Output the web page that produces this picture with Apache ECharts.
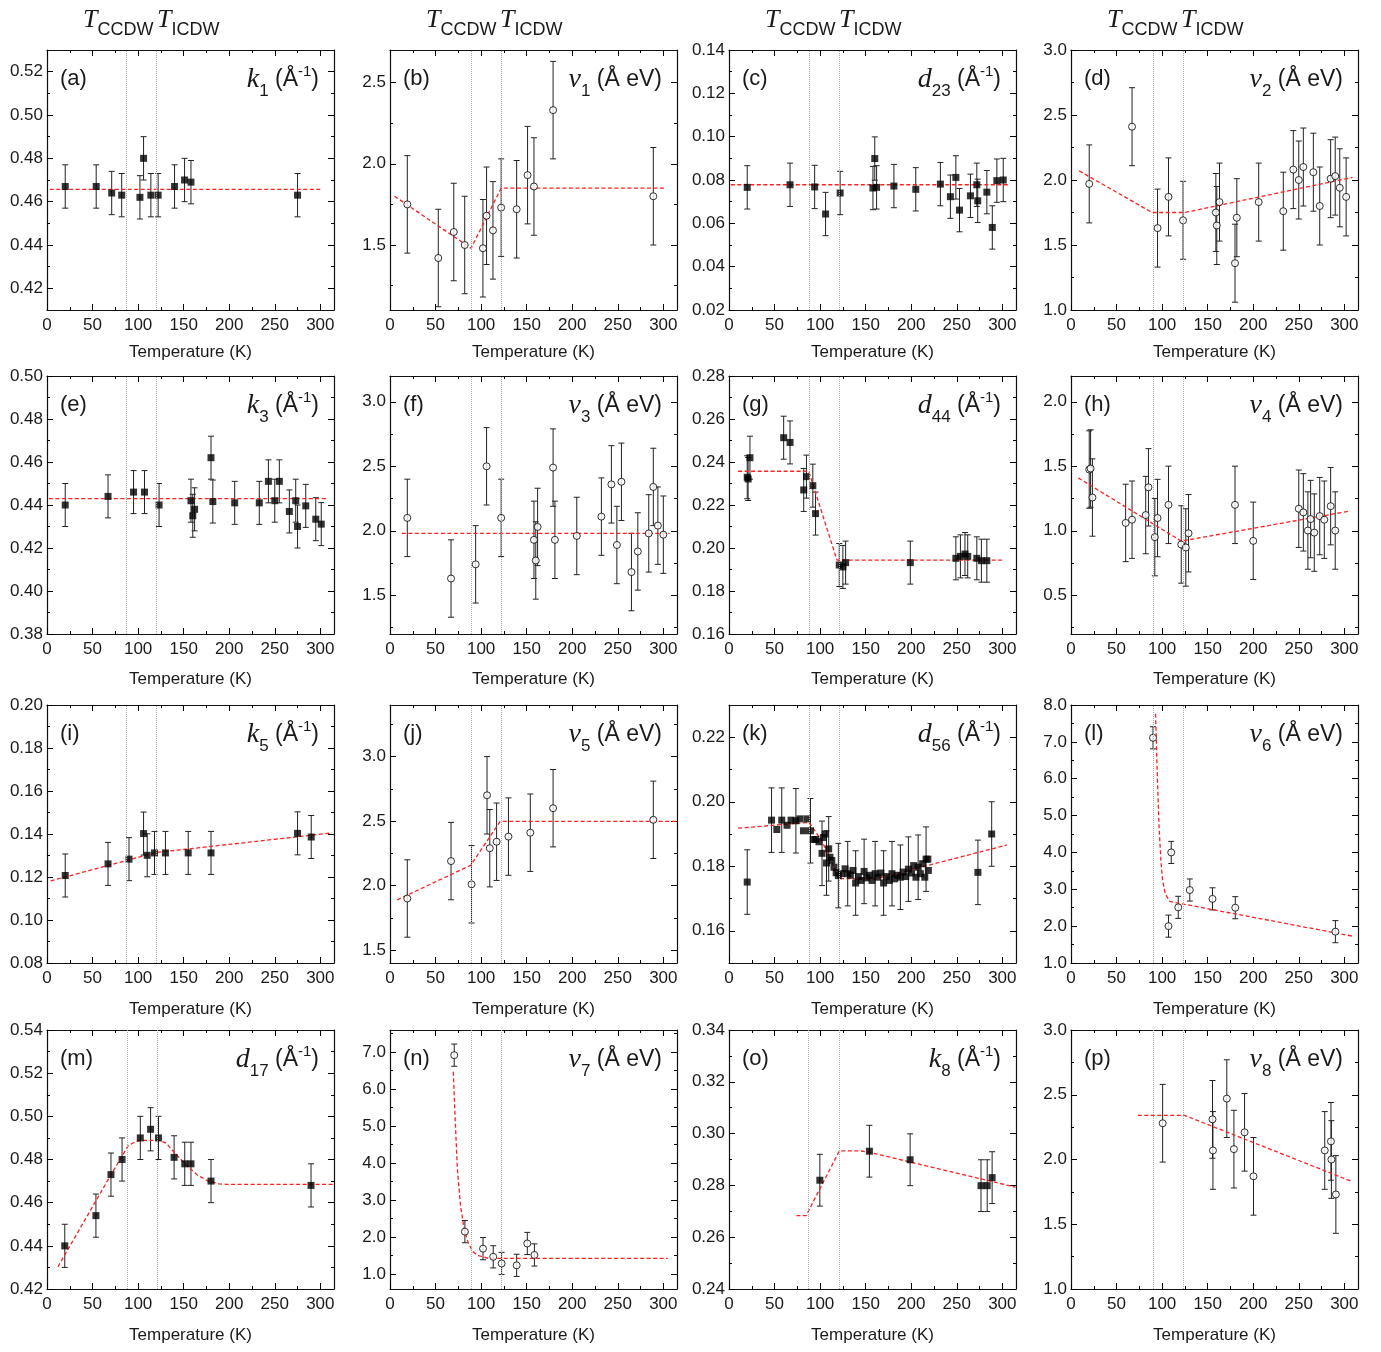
<!DOCTYPE html>
<html><head><meta charset="utf-8">
<script src="https://cdn.jsdelivr.net/npm/echarts@6/dist/echarts.min.js"></script>
<style>html,body{margin:0;padding:0;background:#fff}#c{width:1381px;height:1352px}</style>
</head><body><div id="c"></div>
<script>
// ---------------- DATA ----------------
const xTicks = [0, 50, 100, 150, 200, 250, 300];

// (a) k1
const a_T = [20, 54, 71, 82, 102, 106, 114, 122, 140, 151, 158, 275];
const a_V = [0.467, 0.467, 0.464, 0.463, 0.462, 0.480, 0.463, 0.463, 0.467, 0.470, 0.469, 0.463];
const a_E = [0.01, 0.01, 0.01, 0.01, 0.01, 0.01, 0.01, 0.01, 0.01, 0.01, 0.01, 0.01];
const a_fitT = [3, 300];
const a_fitV = [0.4657, 0.4657];
const a_tc = [87, 120];
const a_yTicks = [0.42, 0.44, 0.46, 0.48, 0.50, 0.52];

// (b) v1
const b_T = [19, 53, 70, 82, 102, 106, 113, 122, 139, 151, 158, 179, 289];
const b_V = [1.75, 1.42, 1.58, 1.50, 1.48, 1.68, 1.59, 1.73, 1.72, 1.93, 1.86, 2.33, 1.80];
const b_E = [0.3, 0.3, 0.3, 0.3, 0.3, 0.3, 0.3, 0.3, 0.3, 0.3, 0.3, 0.3, 0.3];
const b_fitT = [5, 89, 122, 302];
const b_fitV = [1.80, 1.48, 1.85, 1.85];
const b_tc = [89, 122];
const b_yTicks = [1.5, 2.0, 2.5];

// (c) d23
const c_T = [20, 67, 94, 106, 122, 158, 160, 162, 181, 205, 232, 243, 249, 253, 265, 272, 273, 283, 289, 294, 301];
const c_V = [0.0766, 0.0778, 0.0768, 0.0643, 0.0740, 0.0763, 0.0899, 0.0766, 0.0772, 0.0757, 0.0781, 0.0723, 0.0812, 0.0661, 0.0727, 0.0778, 0.0704, 0.0744, 0.0581, 0.0797, 0.0800];
const c_E = [0.01, 0.01, 0.01, 0.01, 0.01, 0.01, 0.01, 0.01, 0.01, 0.01, 0.01, 0.01, 0.01, 0.01, 0.01, 0.01, 0.01, 0.01, 0.01, 0.01, 0.01];
const c_fitT = [2, 308];
const c_fitV = [0.0778, 0.0778];
const c_tc = [88, 121];
const c_yTicks = [0.02, 0.04, 0.06, 0.08, 0.10, 0.12, 0.14];

// (d) v2
const d_T = [20, 67, 95, 107, 123, 159, 160, 163, 180, 182, 206, 233, 244, 250, 255, 266, 273, 285, 290, 295, 302];
const d_V = [1.97, 2.41, 1.63, 1.87, 1.69, 1.75, 1.65, 1.83, 1.36, 1.71, 1.83, 1.76, 2.08, 2.00, 2.10, 2.06, 1.80, 2.01, 2.03, 1.94, 1.87];
const d_E = [0.3, 0.3, 0.3, 0.3, 0.3, 0.3, 0.3, 0.3, 0.3, 0.3, 0.3, 0.3, 0.3, 0.3, 0.3, 0.3, 0.3, 0.3, 0.3, 0.3, 0.3];
const d_fitT = [9, 89, 125, 309];
const d_fitV = [2.07, 1.75, 1.75, 2.02];
const d_tc = [90.5, 123.5];
const d_yTicks = [1.0, 1.5, 2.0, 2.5, 3.0];

// (e) k3
const e_T = [20, 67, 95, 107, 123, 158, 160, 162, 180, 182, 206, 233, 243, 250, 255, 266, 273, 275, 284, 295, 301];
const e_V = [0.440, 0.444, 0.446, 0.446, 0.440, 0.442, 0.435, 0.438, 0.462, 0.4416, 0.441, 0.441, 0.451, 0.442, 0.451, 0.437, 0.442, 0.430, 0.4396, 0.4334, 0.4311];
const e_E = [0.01, 0.01, 0.01, 0.01, 0.01, 0.01, 0.01, 0.01, 0.01, 0.01, 0.01, 0.01, 0.01, 0.01, 0.01, 0.01, 0.01, 0.01, 0.01, 0.01, 0.01];
const e_fitT = [2, 306];
const e_fitV = [0.443, 0.443];
const e_tc = [87, 120];
const e_yTicks = [0.38, 0.40, 0.42, 0.44, 0.46, 0.48, 0.50];

// (f) v3
const f_T = [19, 67, 94, 106, 122, 158, 160, 162, 179, 181, 205, 232, 243, 249, 254, 265, 272, 284, 289, 294, 300];
const f_V = [2.10, 1.63, 1.74, 2.50, 2.10, 1.93, 1.77, 2.03, 2.49, 1.93, 1.96, 2.11, 2.36, 1.89, 2.38, 1.68, 1.84, 1.98, 2.34, 2.04, 1.97];
const f_E = [0.3, 0.3, 0.3, 0.3, 0.3, 0.3, 0.3, 0.3, 0.3, 0.3, 0.3, 0.3, 0.3, 0.3, 0.3, 0.3, 0.3, 0.3, 0.3, 0.3, 0.3];
const f_fitT = [13, 307];
const f_fitV = [1.98, 1.98];
const f_tc = [89, 122];
const f_yTicks = [1.5, 2.0, 2.5, 3.0];

// (g) d44
const g_T = [20, 21, 23, 60, 67, 82, 85, 92, 95, 121, 125, 128, 199, 249, 254, 259, 262, 272, 277, 283];
const g_V = [0.2329, 0.2321, 0.2420, 0.2513, 0.2491, 0.2270, 0.2332, 0.2290, 0.2160, 0.1921, 0.1912, 0.1932, 0.1932, 0.1952, 0.1961, 0.1972, 0.1961, 0.1952, 0.1941, 0.1941];
const g_E = [0.01, 0.01, 0.01, 0.01, 0.01, 0.01, 0.01, 0.01, 0.01, 0.01, 0.01, 0.01, 0.01, 0.01, 0.01, 0.01, 0.01, 0.01, 0.01, 0.01];
const g_fitT = [10, 87.5, 118.5, 301];
const g_fitV = [0.2357, 0.2357, 0.1944, 0.1944];
const g_tc = [88, 121];
const g_yTicks = [0.16, 0.18, 0.20, 0.22, 0.24, 0.26, 0.28];

// (h) v4
const h_T = [20, 21.5, 23.5, 60, 67, 82, 85, 92, 95, 107, 121, 126, 129, 180, 200, 250, 255, 260, 263, 267, 273, 278, 285, 290];
const h_V = [1.475, 1.483, 1.258, 1.061, 1.086, 1.122, 1.337, 0.951, 1.099, 1.201, 0.894, 0.871, 0.981, 1.201, 0.922, 1.171, 1.143, 1.002, 1.091, 0.986, 1.114, 1.086, 1.191, 1.002];
const h_E = [0.3, 0.3, 0.3, 0.3, 0.3, 0.3, 0.3, 0.3, 0.3, 0.3, 0.3, 0.3, 0.3, 0.3, 0.3, 0.3, 0.3, 0.3, 0.3, 0.3, 0.3, 0.3, 0.3, 0.3];
const h_fitT = [8, 121, 306];
const h_fitV = [1.41, 0.92, 1.153];
const h_tc = [90.5, 123.5];
const h_yTicks = [0.5, 1.0, 1.5, 2.0];

// (i) k5
const i_T = [20, 67, 90, 106, 110, 118, 130, 155, 180, 275, 290];
const i_V = [0.1207, 0.1261, 0.1283, 0.1402, 0.1301, 0.1312, 0.1312, 0.1312, 0.1312, 0.1403, 0.1386];
const i_E = [0.01, 0.01, 0.01, 0.01, 0.01, 0.01, 0.01, 0.01, 0.01, 0.01, 0.01];
const i_fitT = [4, 120, 313];
const i_fitV = [0.1182, 0.1314, 0.1405];
const i_tc = [87, 120];
const i_yTicks = [0.08, 0.10, 0.12, 0.14, 0.16, 0.18, 0.20];

// (j) v5
const j_T = [19, 67, 89.5, 106.5, 109.5, 117, 130, 154, 179, 289];
const j_V = [1.90, 2.19, 2.01, 2.70, 2.29, 2.34, 2.38, 2.41, 2.60, 2.51];
const j_E = [0.3, 0.3, 0.3, 0.3, 0.3, 0.3, 0.3, 0.3, 0.3, 0.3];
const j_fitT = [8, 88.5, 121, 314];
const j_fitV = [1.89, 2.157, 2.498, 2.498];
const j_tc = [89, 122];
const j_yTicks = [1.5, 2.0, 2.5, 3.0];

// (k) d56
const k_T = [20, 46.7, 52.5, 57.9, 63.7, 68.1, 73.4, 77.8, 81.7, 85.6, 89.4, 92.4, 95.3, 98.7, 102.1, 103.6, 105.5, 107, 109.4, 110.8,
  112.8, 115.2, 117.6, 120, 123.5, 127.4, 130.3, 133.2, 136.1, 139, 142, 144.9, 148.3, 151.2, 154.1, 157, 160.4, 163.3, 166.7, 169.7,
  172.6, 176, 178.9, 181.8, 184.7, 188.1, 191.1, 194, 196.9, 200.3, 202.7, 205.2, 207.6, 210, 212.5, 214.9, 216.3, 218.3, 218.8, 273.2, 288.3];
const k_V = [0.1751, 0.1943, 0.1914, 0.1943, 0.1927, 0.1943, 0.1941, 0.1947, 0.1910, 0.1947, 0.1910, 0.1883, 0.1883, 0.1876, 0.1840, 0.1889, 0.1900, 0.1810, 0.1854, 0.1828,
  0.1818, 0.1797, 0.1780, 0.1771, 0.1777, 0.1792, 0.1777, 0.1772, 0.1787, 0.1748, 0.1768, 0.1756, 0.1784, 0.1764, 0.1772, 0.1756, 0.1777, 0.1766, 0.1779, 0.1748,
  0.1768, 0.1756, 0.1777, 0.1761, 0.1772, 0.1766, 0.1782, 0.1768, 0.1791, 0.1779, 0.1802, 0.1766, 0.1797, 0.1777, 0.1808, 0.1766, 0.1822, 0.1822, 0.1787, 0.1781, 0.1900];
const k_E = [0.01, 0.01, 0, 0.01, 0, 0, 0.01, 0, 0, 0, 0.01, 0, 0, 0, 0.01, 0, 0, 0.01, 0.01, 0,
  0, 0, 0, 0.01, 0, 0, 0.01, 0, 0, 0.01, 0, 0, 0.01, 0, 0, 0, 0.01, 0, 0, 0.01,
  0, 0, 0.01, 0, 0, 0.01, 0, 0, 0.01, 0, 0, 0, 0.01, 0, 0, 0, 0.01, 0, 0, 0.01, 0.01];
const k_fitT = [10, 88, 101.5, 112, 120, 160, 305];
const k_fitV = [0.1918, 0.1936, 0.1880, 0.1820, 0.1762, 0.1760, 0.1866];
const k_tc = [88, 121];
const k_yTicks = [0.16, 0.18, 0.20, 0.22];

// (l) v6
const l_T = [90, 107, 110, 117.7, 130.4, 155.3, 180.3, 290.2];
const l_V = [7.11, 2.00, 4.00, 2.51, 2.98, 2.74, 2.50, 1.85];
const l_E = [0.3, 0.3, 0.3, 0.3, 0.3, 0.3, 0.3, 0.3];
const l_fitT = [92.8, 94.8, 96.7, 98.7, 100.6, 103.6, 108.5, 123.1, 308.8];
const l_fitV = [7.76, 6.02, 4.67, 3.77, 3.23, 2.87, 2.67, 2.60, 1.73];
const l_tc = [90.5, 123.5];
const l_yTicks = [1.0, 2.0, 3.0, 4.0, 5.0, 6.0, 7.0, 8.0];

// (m) d17
const m_T = [19.5, 53.7, 70.2, 82.4, 102.4, 113.7, 122.4, 139.5, 151.2, 158, 180, 289.8];
const m_V = [0.440, 0.454, 0.473, 0.480, 0.490, 0.494, 0.490, 0.481, 0.478, 0.478, 0.470, 0.468];
const m_E = [0.01, 0.01, 0.01, 0.01, 0.01, 0.01, 0.01, 0.01, 0.01, 0.01, 0.01, 0.01];
const m_fitT = [12, 70, 82, 89, 97, 104, 123, 131, 140.5, 152.7, 165, 177, 189, 197, 314];
const m_fitV = [0.4303, 0.4728, 0.4813, 0.4863, 0.4883, 0.4889, 0.4889, 0.4875, 0.4829, 0.4775, 0.4728, 0.4700, 0.4687, 0.4685, 0.4685];
const m_tc = [88, 121];
const m_yTicks = [0.42, 0.44, 0.46, 0.48, 0.50, 0.52, 0.54];

// (n) v7
const n_T = [70.5, 82.2, 102.1, 113.3, 122.5, 139, 150.7, 158.5];
const n_V = [6.92, 2.15, 1.69, 1.47, 1.29, 1.24, 1.83, 1.52];
const n_E = [0.3, 0.3, 0.3, 0.3, 0.3, 0.3, 0.3, 0.3];
const n_fitT = [69.5, 71.5, 73.9, 77.3, 81.2, 86, 90.9, 97.2, 107.9, 304.8];
const n_fitV = [6.47, 5.21, 3.86, 2.87, 2.24, 1.84, 1.61, 1.50, 1.43, 1.43];
const n_tc = [89, 122];
const n_yTicks = [1.0, 2.0, 3.0, 4.0, 5.0, 6.0, 7.0];

// (o) k8
const o_T = [99.7, 154.1, 198.8, 276.6, 283.4, 288.8];
const o_V = [0.2820, 0.2932, 0.2899, 0.2799, 0.2799, 0.2830];
const o_E = [0.01, 0.01, 0.01, 0.01, 0.01, 0.01];
const o_fitT = [74, 84.6, 121.1, 144.4, 154.1, 314.6];
const o_fitV = [0.2683, 0.2683, 0.2933, 0.2933, 0.2928, 0.2793];
const o_tc = [87.5, 121];
const o_yTicks = [0.24, 0.26, 0.28, 0.30, 0.32, 0.34];

// (p) v8
const p_T = [100.6, 155.3, 155.8, 171, 178.8, 190.5, 200.3, 278.5, 285.3, 285.8, 290.7];
const p_V = [2.28, 2.31, 2.07, 2.47, 2.08, 2.21, 1.87, 2.07, 2.14, 2.00, 1.73];
const p_E = [0.3, 0.3, 0.3, 0.3, 0.3, 0.3, 0.3, 0.3, 0.3, 0.3, 0.3];
const p_fitT = [73.3, 124.6, 308.8];
const p_fitV = [2.341, 2.341, 1.829];
const p_tc = [90.5, 123.5];
const p_yTicks = [1.0, 1.5, 2.0, 2.5, 3.0];

// ---------------- PANEL CONFIG ----------------
const panels = [
  {id:'a', T:a_T, V:a_V, E:a_E, fT:a_fitT, fV:a_fitV, tc:a_tc, yt:a_yTicks, lo:0.41, hi:0.53, dec:2, filled:true, sym:'k', sub:'1', inv:true},
  {id:'b', T:b_T, V:b_V, E:b_E, fT:b_fitT, fV:b_fitV, tc:b_tc, yt:b_yTicks, lo:1.1, hi:2.7, dec:1, filled:false, sym:'v', sub:'1', inv:false},
  {id:'c', T:c_T, V:c_V, E:c_E, fT:c_fitT, fV:c_fitV, tc:c_tc, yt:c_yTicks, lo:0.02, hi:0.14, dec:2, filled:true, sym:'d', sub:'23', inv:true},
  {id:'d', T:d_T, V:d_V, E:d_E, fT:d_fitT, fV:d_fitV, tc:d_tc, yt:d_yTicks, lo:1.0, hi:3.0, dec:1, filled:false, sym:'v', sub:'2', inv:false},
  {id:'e', T:e_T, V:e_V, E:e_E, fT:e_fitT, fV:e_fitV, tc:e_tc, yt:e_yTicks, lo:0.38, hi:0.50, dec:2, filled:true, sym:'k', sub:'3', inv:true},
  {id:'f', T:f_T, V:f_V, E:f_E, fT:f_fitT, fV:f_fitV, tc:f_tc, yt:f_yTicks, lo:1.2, hi:3.2, dec:1, filled:false, sym:'v', sub:'3', inv:false},
  {id:'g', T:g_T, V:g_V, E:g_E, fT:g_fitT, fV:g_fitV, tc:g_tc, yt:g_yTicks, lo:0.16, hi:0.28, dec:2, filled:true, sym:'d', sub:'44', inv:true},
  {id:'h', T:h_T, V:h_V, E:h_E, fT:h_fitT, fV:h_fitV, tc:h_tc, yt:h_yTicks, lo:0.2, hi:2.2, dec:1, filled:false, sym:'v', sub:'4', inv:false},
  {id:'i', T:i_T, V:i_V, E:i_E, fT:i_fitT, fV:i_fitV, tc:i_tc, yt:i_yTicks, lo:0.08, hi:0.20, dec:2, filled:true, sym:'k', sub:'5', inv:true},
  {id:'j', T:j_T, V:j_V, E:j_E, fT:j_fitT, fV:j_fitV, tc:j_tc, yt:j_yTicks, lo:1.4, hi:3.4, dec:1, filled:false, sym:'v', sub:'5', inv:false},
  {id:'k', T:k_T, V:k_V, E:k_E, fT:k_fitT, fV:k_fitV, tc:k_tc, yt:k_yTicks, lo:0.15, hi:0.23, dec:2, filled:true, sym:'d', sub:'56', inv:true},
  {id:'l', T:l_T, V:l_V, E:l_E, fT:l_fitT, fV:l_fitV, tc:l_tc, yt:l_yTicks, lo:1.0, hi:8.0, dec:1, filled:false, sym:'v', sub:'6', inv:false},
  {id:'m', T:m_T, V:m_V, E:m_E, fT:m_fitT, fV:m_fitV, tc:m_tc, yt:m_yTicks, lo:0.42, hi:0.54, dec:2, filled:true, sym:'d', sub:'17', inv:true},
  {id:'n', T:n_T, V:n_V, E:n_E, fT:n_fitT, fV:n_fitV, tc:n_tc, yt:n_yTicks, lo:0.6, hi:7.6, dec:1, filled:false, sym:'v', sub:'7', inv:false},
  {id:'o', T:o_T, V:o_V, E:o_E, fT:o_fitT, fV:o_fitV, tc:o_tc, yt:o_yTicks, lo:0.24, hi:0.34, dec:2, filled:true, sym:'k', sub:'8', inv:true},
  {id:'p', T:p_T, V:p_V, E:p_E, fT:p_fitT, fV:p_fitV, tc:p_tc, yt:p_yTicks, lo:1.0, hi:3.0, dec:1, filled:false, sym:'v', sub:'8', inv:false}
];

// ---------------- LAYOUT ----------------
const colLeft = [47, 390, 729, 1071];
const rowTop = [50, 376, 705, 1030];
const rowH = [260, 258, 258, 259];
const nameGaps = [34, 37, 38, 38];
const W = 287;
const XMAX = 315;
const SANS = '"Liberation Sans", Arial, Helvetica, sans-serif';
const SERIF = '"Liberation Serif", "Times New Roman", serif';
const TXT = '#1a1a1a';

function minorTicks(t, lo, hi) {
  const s = (t[1] - t[0]) / 2;
  const out = [];
  for (let v = t[0] - s; v < hi - 1e-9; v += 2 * s) {
    if (v > lo + 1e-9 && !t.some(m => Math.abs(m - v) < 1e-9)) out.push(+v.toFixed(6));
  }
  return out;
}
const xMinor = minorTicks(xTicks, 0, XMAX);

function renderErr(params, api) {
  const x = api.value(0), y = api.value(1), e = api.value(2);
  if (!e) return null;
  const top = api.coord([x, y + e]);
  const bot = api.coord([x, y - e]);
  const w = 3;
  const st = { stroke: '#222', lineWidth: 1 };
  return {
    type: 'group',
    children: [
      { type: 'line', shape: { x1: top[0], y1: top[1], x2: bot[0], y2: bot[1] }, style: st },
      { type: 'line', shape: { x1: top[0] - w, y1: top[1], x2: top[0] + w, y2: top[1] }, style: st },
      { type: 'line', shape: { x1: bot[0] - w, y1: bot[1], x2: bot[0] + w, y2: bot[1] }, style: st }
    ]
  };
}

const grid = [], xAxis = [], yAxis = [], series = [], graphic = [];
const lineBlack = { show: true, onZero: false, lineStyle: { color: '#111', width: 1.2 } };
const noLine = { show: false, onZero: false };

panels.forEach((p, i) => {
  const r = Math.floor(i / 4), c = i % 4;
  const top = rowTop[r], left = colLeft[c], H = rowH[r];
  grid.push({ left: left, top: top, width: W, height: H, outerBoundsMode: 'none' });

  const xBase = { gridIndex: i, type: 'value', min: 0, max: XMAX, splitLine: { show: false }, silent: true };
  const xi = xAxis.length;
  xAxis.push(Object.assign({}, xBase, {
    position: 'bottom', axisLine: lineBlack,
    axisTick: { show: true, inside: true, length: 6, lineStyle: { color: '#000' }, customValues: xTicks },
    axisLabel: { show: true, customValues: xTicks, fontSize: 17, fontFamily: SANS, color: TXT, margin: 7 },
    name: 'Temperature (K)', nameLocation: 'middle', nameGap: nameGaps[r],
    nameTextStyle: { fontSize: 17, fontFamily: SANS, color: TXT }
  }));
  xAxis.push(Object.assign({}, xBase, {
    position: 'bottom', axisLine: noLine,
    axisTick: { show: true, inside: true, length: 3, lineStyle: { color: '#000' }, customValues: xMinor },
    axisLabel: { show: false }
  }));
  xAxis.push(Object.assign({}, xBase, {
    position: 'top', axisLine: lineBlack,
    axisTick: { show: true, inside: true, length: 6, lineStyle: { color: '#000' }, customValues: xTicks },
    axisLabel: { show: false }
  }));
  xAxis.push(Object.assign({}, xBase, {
    position: 'top', axisLine: noLine,
    axisTick: { show: true, inside: true, length: 3, lineStyle: { color: '#000' }, customValues: xMinor },
    axisLabel: { show: false }
  }));

  const yMinor = minorTicks(p.yt, p.lo, p.hi);
  const yBase = { gridIndex: i, type: 'value', min: p.lo, max: p.hi, splitLine: { show: false }, silent: true };
  const yi = yAxis.length;
  yAxis.push(Object.assign({}, yBase, {
    position: 'left', axisLine: lineBlack,
    axisTick: { show: true, inside: true, length: 6, lineStyle: { color: '#000' }, customValues: p.yt },
    axisLabel: { show: true, customValues: p.yt, fontSize: 17, fontFamily: SANS, color: TXT, margin: 4,
      formatter: (v) => Number(v).toFixed(p.dec) }
  }));
  yAxis.push(Object.assign({}, yBase, {
    position: 'left', axisLine: noLine,
    axisTick: { show: true, inside: true, length: 3, lineStyle: { color: '#000' }, customValues: yMinor },
    axisLabel: { show: false }
  }));
  yAxis.push(Object.assign({}, yBase, {
    position: 'right', axisLine: lineBlack,
    axisTick: { show: true, inside: true, length: 6, lineStyle: { color: '#000' }, customValues: p.yt },
    axisLabel: { show: false }
  }));
  yAxis.push(Object.assign({}, yBase, {
    position: 'right', axisLine: noLine,
    axisTick: { show: true, inside: true, length: 3, lineStyle: { color: '#000' }, customValues: yMinor },
    axisLabel: { show: false }
  }));

  // error bars
  series.push({
    type: 'custom', xAxisIndex: xi, yAxisIndex: yi, silent: true, z: 2, clip: true,
    renderItem: renderErr, encode: { x: 0, y: 1 },
    data: p.T.map((t, k) => [t, p.V[k], p.E[k]])
  });
  // fit line
  series.push({
    type: 'line', xAxisIndex: xi, yAxisIndex: yi, silent: true, z: 3,
    symbol: 'none', showSymbol: false, clip: true,
    lineStyle: { color: '#ff1f1f', width: 1.3, type: [4, 2.5] },
    data: p.fT.map((t, k) => [t, p.fV[k]])
  });
  // points
  series.push({
    type: 'scatter', xAxisIndex: xi, yAxisIndex: yi, silent: true, z: 4,
    symbol: p.filled ? 'rect' : 'circle', symbolSize: 7,
    itemStyle: p.filled ? { color: '#000' } : { color: '#fff', borderColor: '#000', borderWidth: 1 },
    data: p.T.map((t, k) => [t, p.V[k]]),
    markLine: {
      silent: true, symbol: ['none', 'none'], label: { show: false }, animation: false,
      lineStyle: { color: '#a8a8a8', type: [1, 1], width: 1 },
      data: p.tc.map(t => ({ xAxis: t }))
    }
  });

  // panel letter
  graphic.push({
    type: 'text', x: left + 13, y: top + 29, silent: true,
    style: { text: '(' + p.id + ')', fontSize: 22, fontFamily: SANS, fill: TXT, align: 'left', verticalAlign: 'middle' }
  });
  // parameter label
  const unit = p.inv ? '{n| (Å}{sp|-1}{n|)}' : '{n| (Å eV)}';
  graphic.push({
    type: 'text', x: left + W - 15, y: top + 30, silent: true,
    style: {
      text: '{it|' + p.sym + '}{sb|' + p.sub + '}' + unit,
      align: 'right', verticalAlign: 'middle', fill: TXT,
      rich: {
        it: { fontFamily: SERIF, fontStyle: 'italic', fontSize: 28, fill: TXT },
        sb: { fontFamily: SANS, fontSize: 17, fill: TXT, padding: [22, 0, 0, 0] },
        n: { fontFamily: SANS, fontSize: 23, fill: TXT },
        sp: { fontFamily: SANS, fontSize: 15, fill: TXT, padding: [0, 0, 16, 0] }
      }
    }
  });
});

// column headers
const headRich = {
  t: { fontFamily: SERIF, fontStyle: 'italic', fontSize: 26, fill: TXT },
  s: { fontFamily: SANS, fontSize: 18, fill: TXT, padding: [20, 0, 0, 0] }
};
colLeft.forEach(l => {
  graphic.push({ type: 'text', x: l + 36, y: 20, silent: true,
    style: { text: '{t|T}{s|CCDW}', align: 'left', verticalAlign: 'middle', rich: headRich } });
  graphic.push({ type: 'text', x: l + 110, y: 20, silent: true,
    style: { text: '{t|T}{s|ICDW}', align: 'left', verticalAlign: 'middle', rich: headRich } });
});

const chart = echarts.init(document.getElementById('c'), null, { renderer: 'canvas' });
chart.setOption({
  animation: false,
  backgroundColor: '#fff',
  grid: grid, xAxis: xAxis, yAxis: yAxis, series: series, graphic: graphic
});
</script>
</body></html>
